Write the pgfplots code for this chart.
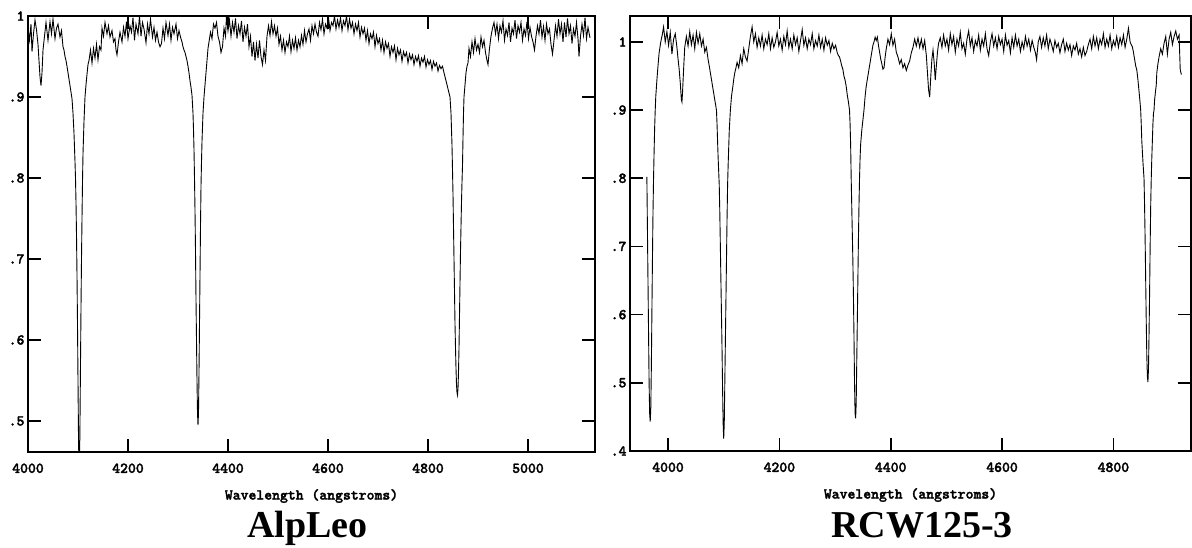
\documentclass[border=0pt]{standalone}
\usepackage{pgfplots}
\pgfplotsset{compat=1.18}
\usepackage{fontspec}
\newfontfamily\titlefont{Liberation Serif}
\newfontfamily\tickfont{lmmonolt10-bold.otf}[FakeBold=2]
\begin{document}
\begin{tikzpicture}
\pgfplotsset{
  specaxis/.style={
    scale only axis,
    axis line style={line width=1.6pt},
    major tick length=13pt,
    every tick/.style={line width=1.6pt, black},
    tick align=inside,
    tick label style={font=\tickfont\fontsize{15}{15}\selectfont},
    x tick label style={yshift=-8pt},
    xlabel={Wavelength (angstroms)},
    x label style={font=\tickfont\fontsize{15}{15}\selectfont, at={(axis description cs:0.5,0)}, anchor=center, yshift=-44pt},
    clip=true,
  }
}
% ---------------- Left panel: AlpLeo ----------------
\begin{axis}[specaxis,
  at={(28pt,95pt)}, anchor=south west,
  width=567pt, height=436pt,
  xmin=4000, xmax=5134, ymin=0.4617, ymax=1.0,
  xtick={4000,4200,4400,4600,4800,5000},
  xticklabels={4000,4200,4400,4600,4800,5000},
  ytick={0.5,0.6,0.7,0.8,0.9,1.0},
  yticklabels={.5,.6,.7,.8,.9,1},
]
\addplot[black, line width=0.9pt] coordinates {
(4000,0.985)(4003,0.970)(4006,0.990)(4008,0.956)(4011,0.978)(4014,0.995)(4017,0.983)(4020,0.965)
(4022,0.945)(4024,0.925)(4026,0.914)(4028,0.930)(4030,0.958)(4033,0.975)(4036,0.992)(4040,0.970)
(4044,0.993)(4047,0.978)(4050,0.996)(4054,0.972)(4057,0.985)(4060,0.990)(4064,0.974)(4067,0.982)
(4070,0.962)(4072,0.958)(4074,0.950)(4076,0.945)(4078,0.938)(4080,0.930)(4082,0.922)(4084,0.914)
(4086,0.906)(4088,0.898)(4090,0.880)(4092,0.855)(4094,0.820)(4095,0.800)(4096,0.770)(4097,0.730)
(4098,0.680)(4099,0.620)(4100,0.550)(4101,0.480)(4102,0.440)(4103,0.440)(4104,0.500)(4105,0.570)
(4106,0.640)(4107,0.700)(4108,0.750)(4109,0.795)(4110,0.830)(4112,0.870)(4114,0.900)(4116,0.915)
(4118,0.928)(4120,0.940)(4122,0.945)(4125,0.958)(4128,0.942)(4131,0.960)(4134,0.948)(4137,0.965)
(4140,0.946)(4143,0.962)(4146,0.958)(4148,0.985)(4151,0.975)(4154,0.992)(4158,0.978)(4161,0.988)
(4164,0.974)(4168,0.982)(4171,0.968)(4174,0.972)(4176,0.958)(4178,0.952)(4181,0.968)(4184,0.980)
(4188,0.968)(4191,0.986)(4194,0.975)(4197,0.993)(4200,0.972)(4204,0.988)(4207,0.980)(4210,0.998)
(4213,0.970)(4216,0.990)(4220,0.978)(4223,1.000)(4226,0.975)(4229,0.992)(4232,0.984)(4236,0.967)
(4239,0.990)(4242,0.978)(4245,0.996)(4249,0.974)(4252,0.986)(4255,0.970)(4258,0.980)(4261,0.968)
(4264,0.962)(4267,0.966)(4270,0.985)(4273,0.972)(4276,0.992)(4280,0.976)(4283,0.990)(4286,0.970)
(4289,0.986)(4292,0.978)(4296,0.990)(4299,0.972)(4302,0.982)(4305,0.974)(4308,0.968)(4310,0.962)
(4312,0.958)(4314,0.955)(4316,0.950)(4318,0.945)(4320,0.938)(4322,0.930)(4324,0.920)(4326,0.912)
(4328,0.902)(4330,0.880)(4331,0.860)(4332,0.835)(4333,0.800)(4334,0.760)(4335,0.710)(4336,0.650)
(4337,0.600)(4338,0.550)(4339,0.510)(4340,0.495)(4341,0.510)(4342,0.560)(4343,0.620)(4344,0.680)
(4345,0.740)(4346,0.790)(4347,0.820)(4348,0.845)(4350,0.880)(4352,0.900)(4354,0.915)(4356,0.930)
(4358,0.945)(4360,0.960)(4362,0.968)(4365,0.980)(4368,0.972)(4371,0.990)(4374,0.985)(4377,0.992)
(4380,0.975)(4383,0.968)(4386,0.955)(4389,0.962)(4392,0.985)(4395,0.975)(4397,1.000)(4400,0.982)
(4403,0.995)(4406,0.975)(4409,0.992)(4412,0.980)(4415,0.997)(4418,0.972)(4421,0.988)(4424,0.978)
(4427,0.994)(4430,0.968)(4433,0.986)(4436,0.975)(4439,0.990)(4442,0.962)(4445,0.975)(4448,0.950)
(4451,0.968)(4454,0.945)(4457,0.965)(4460,0.948)(4463,0.970)(4466,0.950)(4469,0.940)(4472,0.958)
(4475,0.945)(4478,0.975)(4481,0.988)(4484,0.976)(4487,0.993)(4490,0.978)(4493,0.988)(4496,0.975)
(4499,0.985)(4502,0.965)(4505,0.975)(4508,0.958)(4511,0.970)(4514,0.955)(4517,0.968)(4520,0.962)
(4523,0.975)(4526,0.956)(4529,0.970)(4532,0.960)(4535,0.973)(4538,0.958)(4541,0.970)(4544,0.962)
(4547,0.976)(4550,0.965)(4553,0.982)(4556,0.968)(4559,0.978)(4562,0.984)(4565,0.970)(4568,0.988)
(4571,0.978)(4574,0.990)(4577,0.980)(4580,0.975)(4583,0.992)(4586,0.983)(4589,0.996)(4592,0.978)
(4595,0.990)(4598,0.985)(4601,0.998)(4604,0.982)(4607,0.992)(4610,0.988)(4613,1.000)(4616,0.984)
(4619,0.995)(4622,0.986)(4625,0.998)(4628,0.982)(4631,0.994)(4634,0.988)(4637,1.000)(4640,0.983)
(4643,0.996)(4646,0.985)(4649,0.992)(4652,0.978)(4655,0.990)(4658,0.982)(4661,0.992)(4664,0.974)
(4667,0.986)(4670,0.978)(4673,0.985)(4676,0.970)(4679,0.982)(4682,0.966)(4685,0.978)(4688,0.972)
(4691,0.980)(4694,0.962)(4697,0.976)(4700,0.966)(4703,0.972)(4706,0.958)(4709,0.970)(4712,0.955)
(4715,0.968)(4718,0.960)(4721,0.966)(4724,0.950)(4727,0.962)(4730,0.955)(4733,0.963)(4736,0.946)
(4739,0.960)(4742,0.952)(4745,0.958)(4748,0.944)(4751,0.956)(4754,0.950)(4757,0.955)(4760,0.942)
(4763,0.953)(4766,0.946)(4769,0.952)(4772,0.940)(4775,0.950)(4778,0.944)(4781,0.951)(4784,0.938)
(4787,0.948)(4790,0.943)(4793,0.950)(4796,0.937)(4799,0.946)(4802,0.940)(4805,0.945)(4808,0.934)
(4811,0.944)(4814,0.938)(4817,0.942)(4820,0.932)(4823,0.939)(4826,0.935)(4829,0.938)(4832,0.930)
(4834,0.925)(4836,0.920)(4838,0.915)(4840,0.910)(4842,0.905)(4844,0.900)(4846,0.880)(4848,0.840)
(4849,0.810)(4850,0.780)(4851,0.740)(4852,0.700)(4853,0.660)(4854,0.620)(4855,0.590)(4856,0.565)
(4857,0.545)(4858,0.535)(4859,0.532)(4860,0.540)(4861,0.560)(4862,0.590)(4863,0.630)(4864,0.670)
(4865,0.710)(4866,0.740)(4867,0.770)(4868,0.795)(4869,0.815)(4870,0.850)(4871,0.880)(4872,0.900)
(4874,0.915)(4876,0.930)(4878,0.938)(4880,0.942)(4882,0.960)(4885,0.950)(4888,0.968)(4891,0.955)
(4894,0.972)(4897,0.958)(4900,0.965)(4903,0.955)(4906,0.974)(4909,0.962)(4912,0.970)(4915,0.955)
(4918,0.945)(4920,0.940)(4923,0.960)(4926,0.975)(4929,0.985)(4932,0.992)(4935,0.978)(4938,0.990)
(4941,0.972)(4944,0.988)(4947,0.980)(4950,0.994)(4953,0.970)(4956,0.984)(4959,0.976)(4962,0.992)
(4965,0.968)(4968,0.985)(4971,0.978)(4974,0.995)(4977,0.972)(4980,0.988)(4983,0.980)(4986,0.992)
(4989,0.970)(4992,0.984)(4995,0.976)(4998,0.993)(5001,0.972)(5004,0.986)(5007,0.975)(5010,0.968)
(5013,0.958)(5016,0.975)(5019,0.988)(5022,0.978)(5025,0.995)(5028,0.974)(5031,0.987)(5034,0.970)
(5037,0.990)(5040,0.978)(5043,0.984)(5046,0.965)(5049,0.953)(5052,0.970)(5055,0.988)(5058,0.975)
(5061,0.996)(5064,0.978)(5067,0.990)(5070,0.968)(5073,0.992)(5076,0.974)(5079,0.997)(5082,0.978)
(5085,0.988)(5088,0.966)(5091,0.984)(5094,0.975)(5097,0.992)(5100,0.972)(5102,0.950)(5105,0.975)
(5108,0.990)(5111,0.976)(5114,0.998)(5117,0.972)(5120,0.986)(5124,0.973)
};
\end{axis}
% ---------------- Right panel: RCW125-3 ----------------
\begin{axis}[specaxis,
  at={(630pt,96pt)}, anchor=south west,
  width=561pt, height=435pt,
  xmin=3931.7, xmax=4939.4, ymin=0.4, ymax=1.038,
  xtick={4000,4200,4400,4600,4800},
  xticklabels={4000,4200,4400,4600,4800},
  ytick={0.4,0.5,0.6,0.7,0.8,0.9,1.0},
  yticklabels={.4,.5,.6,.7,.8,.9,1},
]
\addplot[black, line width=0.9pt] coordinates {
(3962,0.802)(3964,0.650)(3966,0.500)(3967,0.455)(3968,0.443)(3969,0.460)(3970,0.520)(3971,0.600)
(3972,0.680)(3973,0.750)(3974,0.800)(3975,0.840)(3976,0.875)(3977,0.900)(3978,0.920)(3980,0.944)
(3982,0.965)(3984,0.984)(3987,1.000)(3990,1.012)(3992,1.022)(3995,1.000)(3998,1.015)(4001,0.995)
(4004,1.014)(4007,0.982)(4010,1.004)(4013,1.012)(4016,0.992)(4018,0.975)(4020,0.960)(4022,0.940)
(4024,0.915)(4025,0.912)(4026,0.925)(4028,0.960)(4030,0.992)(4033,1.008)(4036,0.994)(4039,1.015)
(4042,0.996)(4045,1.010)(4048,0.990)(4051,1.014)(4054,0.998)(4057,1.012)(4060,0.994)(4063,1.004)
(4066,0.985)(4069,0.992)(4072,0.974)(4074,0.965)(4076,0.955)(4078,0.945)(4080,0.935)(4082,0.925)
(4084,0.915)(4086,0.905)(4087,0.900)(4088,0.880)(4089,0.855)(4090,0.830)(4091,0.810)(4092,0.790)
(4093,0.750)(4094,0.700)(4095,0.650)(4096,0.600)(4097,0.550)(4098,0.490)(4099,0.440)(4100,0.418)
(4101,0.440)(4102,0.500)(4103,0.560)(4104,0.620)(4105,0.680)(4106,0.740)(4107,0.790)(4108,0.820)
(4109,0.845)(4110,0.870)(4112,0.900)(4114,0.920)(4116,0.932)(4118,0.945)(4120,0.955)(4122,0.962)
(4124,0.970)(4127,0.962)(4130,0.980)(4133,0.968)(4136,0.990)(4139,0.978)(4142,0.972)(4145,0.990)
(4148,1.008)(4151,1.022)(4154,1.000)(4157,1.012)(4160,0.992)(4163,1.006)(4166,0.994)(4169,1.010)
(4172,0.990)(4175,1.004)(4178,0.996)(4181,1.012)(4184,0.990)(4187,1.006)(4190,0.992)(4193,1.000)
(4196,1.014)(4199,0.994)(4202,1.004)(4205,0.988)(4208,1.008)(4211,0.996)(4214,1.016)(4217,0.992)
(4220,1.004)(4223,0.990)(4226,1.010)(4229,0.996)(4232,1.006)(4235,0.986)(4238,1.002)(4241,1.018)
(4244,0.995)(4247,1.006)(4250,0.990)(4253,1.004)(4256,0.996)(4259,1.012)(4262,0.990)(4265,1.002)
(4268,0.994)(4271,1.010)(4274,0.992)(4277,1.004)(4280,0.988)(4283,1.006)(4286,0.995)(4289,1.002)
(4292,0.986)(4295,0.998)(4298,0.990)(4301,0.995)(4304,0.984)(4306,0.980)(4308,0.978)(4310,0.972)
(4312,0.965)(4314,0.960)(4316,0.950)(4318,0.944)(4320,0.935)(4322,0.922)(4324,0.912)(4326,0.900)
(4327,0.880)(4328,0.850)(4329,0.800)(4330,0.760)(4331,0.720)(4332,0.680)(4333,0.630)(4334,0.570)
(4335,0.500)(4336,0.455)(4337,0.448)(4338,0.470)(4339,0.530)(4340,0.590)(4341,0.650)(4342,0.710)
(4343,0.760)(4344,0.800)(4345,0.830)(4346,0.850)(4348,0.870)(4350,0.885)(4352,0.900)(4354,0.920)
(4356,0.935)(4358,0.945)(4360,0.955)(4362,0.965)(4364,0.975)(4366,0.985)(4368,0.995)(4370,1.000)
(4372,1.007)(4374,1.002)(4376,1.007)(4378,0.995)(4380,0.985)(4382,0.975)(4384,0.968)(4386,0.960)
(4388,0.962)(4390,0.978)(4392,0.990)(4395,1.004)(4398,0.996)(4401,1.012)(4404,0.995)(4407,1.004)
(4410,0.985)(4413,0.978)(4416,0.968)(4419,0.974)(4422,0.962)(4425,0.968)(4428,0.958)(4431,0.966)
(4434,0.972)(4437,0.984)(4440,0.992)(4443,1.004)(4446,0.994)(4449,1.006)(4452,0.992)(4455,1.004)
(4458,0.990)(4461,1.002)(4464,0.980)(4466,0.955)(4468,0.930)(4470,0.919)(4472,0.950)(4474,0.975)
(4476,0.988)(4478,0.970)(4480,0.944)(4482,0.965)(4484,0.985)(4486,0.998)(4489,1.006)(4492,0.992)
(4495,1.010)(4498,0.994)(4501,1.004)(4504,0.988)(4507,1.012)(4510,0.996)(4513,1.008)(4516,0.985)
(4519,1.004)(4522,0.994)(4525,1.014)(4528,0.990)(4531,0.998)(4534,0.982)(4537,1.004)(4540,1.016)
(4543,0.994)(4546,1.006)(4549,0.986)(4552,1.002)(4555,0.994)(4558,1.010)(4561,0.988)(4564,1.004)
(4567,0.994)(4570,1.012)(4573,0.990)(4576,0.980)(4579,1.000)(4582,1.012)(4585,0.994)(4588,1.006)
(4591,0.990)(4594,1.008)(4597,0.996)(4600,1.004)(4603,0.986)(4606,1.010)(4609,0.995)(4612,1.002)
(4615,0.984)(4618,1.006)(4621,0.992)(4624,1.010)(4627,0.994)(4630,1.004)(4633,0.986)(4636,1.000)
(4639,0.990)(4642,1.008)(4645,0.994)(4648,1.004)(4651,0.988)(4654,1.002)(4657,0.992)(4660,0.984)
(4662,0.974)(4665,1.000)(4668,1.008)(4671,0.992)(4674,1.006)(4677,0.994)(4680,1.010)(4683,0.990)
(4686,1.004)(4689,0.996)(4692,0.986)(4695,1.002)(4698,0.992)(4701,0.998)(4704,0.984)(4707,0.996)
(4710,1.004)(4713,0.986)(4716,0.998)(4719,0.988)(4722,0.996)(4725,0.980)(4728,0.994)(4731,0.988)
(4734,0.998)(4737,0.982)(4740,0.990)(4743,0.978)(4746,0.992)(4749,0.980)(4752,0.986)(4755,0.996)
(4758,1.004)(4761,0.990)(4764,1.008)(4767,0.994)(4770,1.006)(4773,0.990)(4776,1.004)(4779,0.996)
(4782,1.012)(4785,0.992)(4788,1.004)(4791,0.994)(4794,1.010)(4797,0.990)(4800,1.002)(4803,0.994)
(4806,1.008)(4809,0.992)(4812,1.006)(4815,0.996)(4818,1.010)(4821,0.992)(4824,1.004)(4827,1.020)
(4830,1.000)(4832,0.996)(4834,0.993)(4836,0.985)(4838,0.975)(4840,0.965)(4842,0.959)(4844,0.945)
(4846,0.928)(4848,0.910)(4849,0.900)(4850,0.880)(4851,0.855)(4852,0.840)(4853,0.825)(4854,0.812)
(4855,0.800)(4856,0.760)(4857,0.710)(4858,0.650)(4859,0.590)(4860,0.540)(4861,0.510)(4862,0.501)
(4863,0.520)(4864,0.570)(4865,0.630)(4866,0.700)(4867,0.760)(4868,0.800)(4869,0.830)(4870,0.855)
(4871,0.880)(4872,0.895)(4873,0.900)(4874,0.915)(4876,0.930)(4877,0.937)(4878,0.955)(4880,0.968)
(4882,0.978)(4885,0.990)(4888,0.982)(4891,0.998)(4894,1.008)(4897,0.982)(4900,1.004)(4903,1.014)
(4906,0.996)(4909,1.008)(4912,1.016)(4915,1.004)(4918,1.010)(4920,0.960)(4922,0.952)
};
\end{axis}
\node[anchor=base, font=\titlefont\bfseries\fontsize{38}{38}\selectfont] at (307.5pt,10pt) {AlpLeo};
\node[anchor=base, font=\titlefont\bfseries\fontsize{38}{38}\selectfont] at (922pt,10pt) {RCW125-3};
\pgfresetboundingbox
\useasboundingbox (0pt,0pt) rectangle (1192pt,547pt);
\end{tikzpicture}
\end{document}
